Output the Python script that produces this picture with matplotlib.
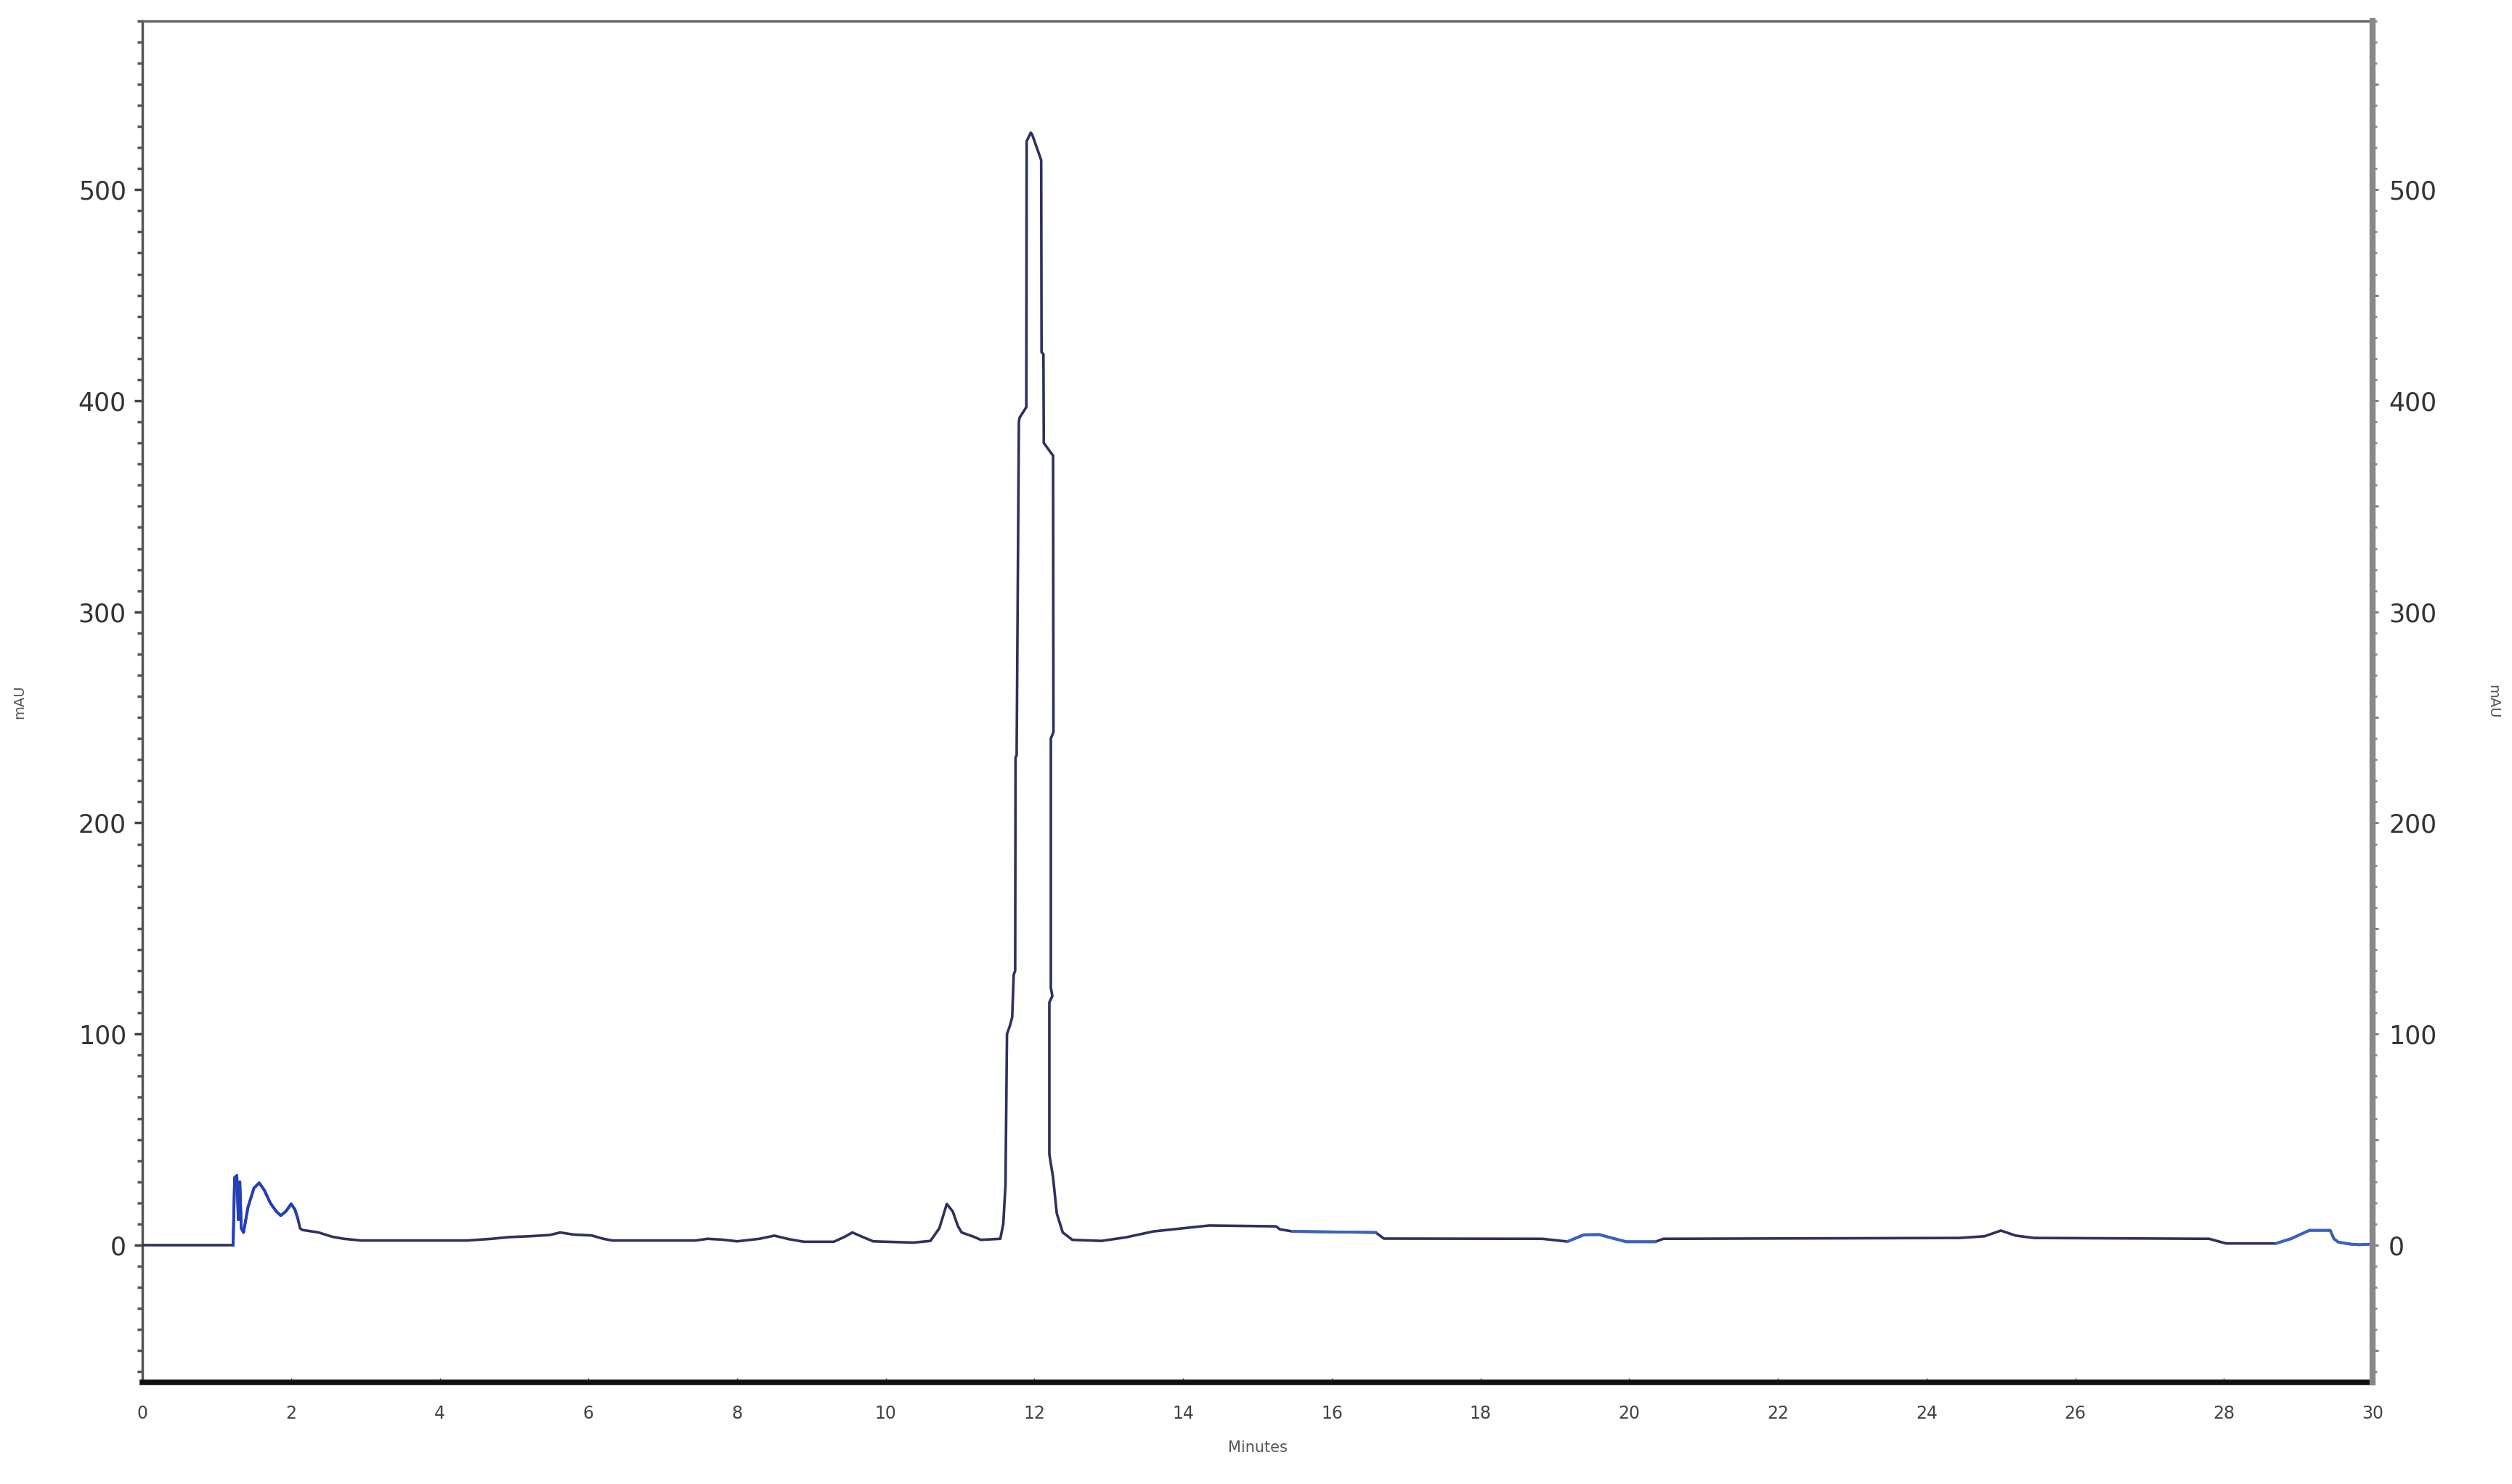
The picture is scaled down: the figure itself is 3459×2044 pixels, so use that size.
import numpy as np
import matplotlib.pyplot as plt
from matplotlib.ticker import MultipleLocator, FuncFormatter

# chromatogram trace (minutes, mAU)
minutes = [0.0, 1.22, 1.24, 1.27, 1.29, 1.31, 1.33, 1.36, 1.42, 1.5, 1.57, 1.64, 1.72, 1.8,
           1.86, 1.93, 2.0, 2.05, 2.09, 2.12, 2.15, 2.37, 2.55, 2.71, 2.94, 4.37, 4.7, 4.93,
           5.2, 5.48, 5.62, 5.8, 6.04, 6.2, 6.32, 7.44, 7.6, 7.8, 8.0, 8.3, 8.5, 8.7, 8.9,
           9.3, 9.45, 9.55, 9.68, 9.83, 10.37, 10.6, 10.72, 10.82, 10.9, 10.97, 11.02, 11.18,
           11.28, 11.54, 11.58, 11.61, 11.63, 11.67, 11.70, 11.72, 11.74, 11.745, 11.76,
           11.79, 11.80, 11.89, 11.895, 11.95, 11.97, 12.09, 12.095, 12.12, 12.125, 12.25,
           12.255, 12.22, 12.22, 12.24, 12.2, 12.2, 12.25, 12.3, 12.38, 12.51, 12.9, 13.23,
           13.6, 14.0, 14.35, 15.25, 15.3, 15.47, 16.59, 16.7, 18.83, 19.17, 19.39, 19.6,
           19.7, 19.96, 20.35, 20.46, 24.44, 24.78, 25.0, 25.2, 25.45, 27.8, 28.03, 28.7,
           28.9, 29.15, 29.43, 29.48, 29.54, 29.7, 29.82, 30.0]
mau = [0, 0, 32, 33, 12, 30, 8, 6, 18, 27, 29.5, 26, 20, 16,
       14, 16, 19.5, 17, 12.6, 8, 7.2, 6, 4, 3, 2.2, 2.2, 3, 3.8,
       4.2, 4.8, 6, 5, 4.6, 3, 2.2, 2.2, 3, 2.6, 1.8, 3, 4.5, 2.8, 1.6,
       1.6, 4, 6, 4, 1.8, 1.2, 2, 8, 19.5, 16, 9, 6, 4,
       2.5, 3, 10, 28.5, 100, 104, 108, 128, 130, 231, 232,
       390, 392, 397, 523, 527, 526, 514, 423, 422, 380, 374,
       243, 240, 122, 118, 115, 43, 32, 15, 6, 2.5, 2, 3.7,
       6.5, 8, 9.3, 8.9, 7.5, 6.5, 6, 3.1, 3, 1.7, 4.9, 5,
       4, 1.6, 1.6, 3, 3.4, 4.2, 6.9, 4.5, 3.4, 3, 0.8, 0.8,
       3, 7, 7, 3, 1.4, 0.5, 0.2, 0.5]

# stretches of the trace drawn in brighter blue
blue_ranges = [(1.2, 2.1), (15.4, 16.65), (19.1, 20.4), (28.6, 30.0)]

x = np.array(minutes)
y = np.array(mau)

fig = plt.figure(figsize=(34.59, 20.44), dpi=100)
ax = fig.add_axes([0.0567, 0.0685, 0.8878, 0.9175])

ax.plot(x, y, color='#2e3160', lw=2.6, zorder=3)
for lo, hi in blue_ranges:
    m = (x >= lo) & (x <= hi)
    ax.plot(x[m], y[m], color='#2440b8' if lo < 3 else '#3a62c0', lw=2.8, zorder=4)

ax.set_xlim(0, 30)
ax.set_ylim(-65, 580)

# x axis
ax.xaxis.set_major_locator(MultipleLocator(2))
ax.tick_params(axis='x', direction='in', length=4, width=1, colors='#555555',
               labelcolor='#444444', labelsize=17, pad=22)
ax.set_xlabel('Minutes', fontsize=15, color='#555555', labelpad=18)

# left y axis
ax.yaxis.set_major_locator(MultipleLocator(100))
ax.yaxis.set_minor_locator(MultipleLocator(10))
ax.tick_params(axis='y', which='major', direction='out', length=8, width=2.5,
               colors='#444444', labelcolor='#333333', labelsize=25, pad=8)
ax.tick_params(axis='y', which='minor', direction='out', length=5, width=2.5,
               colors='#555555')
ax.set_ylabel('mAU', fontsize=14, color='#555555')
ax.yaxis.set_label_coords(-0.052, 0.5)

# right y axis
ax2 = ax.twinx()
ax2.set_ylim(ax.get_ylim())
ax2.yaxis.set_major_locator(MultipleLocator(50))
ax2.yaxis.set_minor_locator(MultipleLocator(10))
ax2.yaxis.set_major_formatter(FuncFormatter(lambda v, p: '%d' % v if v % 100 == 0 else ''))
ax2.tick_params(axis='y', which='major', direction='out', length=6, width=2,
                colors='#777777', labelcolor='#333333', labelsize=25, pad=10)
ax2.tick_params(axis='y', which='minor', direction='out', length=4, width=2,
                colors='#888888')
for t in ax2.yaxis.get_major_ticks():
    v = t.get_loc()
    if v % 100 != 0:
        t.tick2line.set_markersize(22)
ax2.set_ylabel('mAU', fontsize=14, color='#555555', rotation=270)
ax2.yaxis.set_label_coords(1.057, 0.5)

# spines
ax.spines['left'].set_color('#555555')
ax.spines['left'].set_linewidth(2.5)
ax.spines['top'].set_color('#666666')
ax.spines['top'].set_linewidth(2.5)
ax.spines['bottom'].set_color('#111111')
ax.spines['bottom'].set_linewidth(5.5)
ax2.spines['right'].set_color('#888888')
ax2.spines['right'].set_linewidth(6)
for s in ['left', 'top', 'bottom']:
    ax2.spines[s].set_visible(False)
ax.spines['right'].set_visible(False)

fig.savefig('out.png', dpi=100, facecolor='white')
